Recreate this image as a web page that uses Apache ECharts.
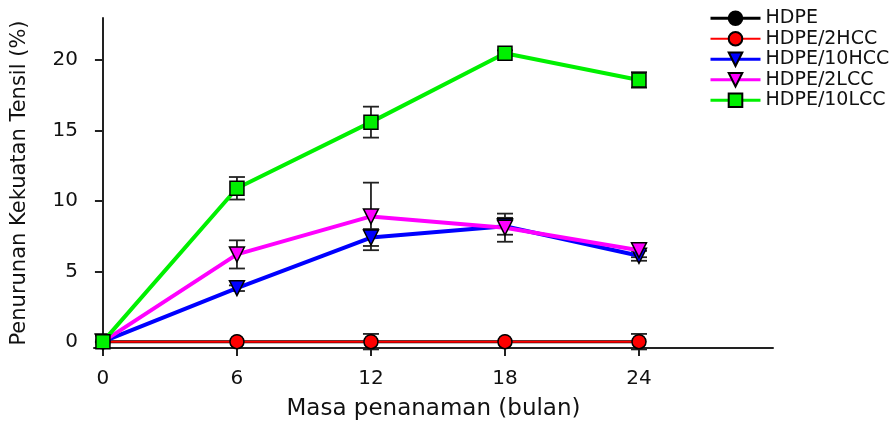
<!DOCTYPE html>
<html>
<head>
<meta charset="utf-8">
<script src="https://cdn.jsdelivr.net/npm/echarts@6/dist/echarts.min.js"></script>
<style>
html,body{margin:0;padding:0;background:#fff;}
#chart{width:891px;height:424px;}
</style>
</head>
<body>
<div id="chart"></div>
<script>
const months = [0, 6, 12, 18, 24];
const xTickLabels = [0, 6, 12, 18, 24];
const yTickLabels = [0, 5, 10, 15, 20];
const seriesNames = ['HDPE', 'HDPE/2HCC', 'HDPE/10HCC', 'HDPE/2LCC', 'HDPE/10LCC'];
const valHDPE    = [0, 0, 0, 0, 0];
const val2HCC    = [0, 0, 0, 0, 0];
const val10HCC   = [0, 3.8, 7.4, 8.2, 6.1];
const val2LCC    = [0, 6.2, 8.9, 8.1, 6.5];
const val10LCC   = [0, 10.9, 15.6, 20.5, 18.6];
const errHDPE    = [0, 0, 0, 0, 0];
const err2HCC    = [0, 0, 0.55, 0, 0.55];
const err10HCC   = [0, 0.2, 0.6, 0.6, 0.35];
const err2LCC    = [0, 1.0, 2.4, 1.0, 0.5];
const err10LCC   = [0, 0.8, 1.1, 0.2, 0.55];

const FONT = 'DejaVu Sans';
const vals = [valHDPE, val2HCC, val10HCC, val2LCC, val10LCC];
const errs = [errHDPE, err2HCC, err10HCC, err2LCC, err10LCC];
const styles = [
  {color: '#000000', symbol: 'circle', size: 13, rotate: 0, width: 3},
  {color: '#ff0000', symbol: 'circle', size: 14, rotate: 0, width: 2},
  {color: '#0000ff', symbol: 'triangle', size: 15, rotate: 180, width: 4},
  {color: '#ff00ff', symbol: 'triangle', size: 15, rotate: 180, width: 4},
  {color: '#00f000', symbol: 'rect', size: 14, rotate: 0, width: 4}
];

const series = [];
seriesNames.forEach((name, i) => {
  const data = months.map((m, j) => [m, vals[i][j], errs[i][j]]).filter(d => d[2] > 0);
  series.push({
    type: 'custom',
    name: name + '_err',
    z: 1,
    silent: true,
    data: data,
    renderItem: function (params, api) {
      const x = api.value(0), y = api.value(1), e = api.value(2);
      const top = api.coord([x, y + e]);
      const bot = api.coord([x, y - e]);
      const hw = 8;
      const st = {stroke: '#222', lineWidth: 1.8};
      return {
        type: 'group',
        children: [
          {type: 'line', shape: {x1: top[0], y1: top[1], x2: bot[0], y2: bot[1]}, style: st},
          {type: 'line', shape: {x1: top[0] - hw, y1: top[1], x2: top[0] + hw, y2: top[1]}, style: st},
          {type: 'line', shape: {x1: bot[0] - hw, y1: bot[1], x2: bot[0] + hw, y2: bot[1]}, style: st}
        ]
      };
    }
  });
});
seriesNames.forEach((name, i) => {
  const s = styles[i];
  series.push({
    type: 'line',
    name: name,
    z: 2 + i,
    data: months.map((m, j) => [m, vals[i][j]]),
    symbol: s.symbol,
    symbolSize: s.size,
    symbolRotate: s.rotate,
    showAllSymbol: true,
    lineStyle: {color: s.color, width: s.width},
    itemStyle: {color: s.color, borderColor: '#000', borderWidth: 1.5},
    emphasis: {disabled: true},
    animation: false
  });
});

const chart = echarts.init(document.getElementById('chart'), null, {renderer: 'canvas'});
chart.setOption({
  animation: false,
  backgroundColor: '#ffffff',
  grid: {left: 94, right: 118, top: 18, bottom: 76, containLabel: false, outerBoundsMode: 'none'},
  legend: {
    orient: 'vertical',
    left: 704,
    top: 3,
    itemWidth: 50,
    itemHeight: 17,
    itemGap: 0,
    data: seriesNames.map((n, i) => ({
      name: n,
      lineStyle: {color: styles[i].color, width: i === 1 ? 2 : 3}
    })),
    textStyle: {fontFamily: FONT, fontSize: 19, color: '#111', lineHeight: 20.5},
    selectedMode: false
  },
  xAxis: {
    type: 'value',
    min: -0.4,
    max: 30,
    name: 'Masa penanaman (bulan)',
    nameLocation: 'middle',
    nameGap: 50,
    nameTextStyle: {fontFamily: FONT, fontSize: 23, color: '#111'},
    axisLine: {onZero: false, lineStyle: {color: '#222', width: 2}},
    axisTick: {show: true, length: 8, customValues: xTickLabels, lineStyle: {color: '#222', width: 2}},
    axisLabel: {customValues: xTickLabels, fontFamily: FONT, fontSize: 20, color: '#111', margin: 21},
    splitLine: {show: false}
  },
  yAxis: {
    type: 'value',
    min: -0.45,
    max: 23,
    name: 'Penurunan Kekuatan Tensil (%)',
    nameLocation: 'middle',
    nameGap: 64,
    nameTextStyle: {fontFamily: FONT, fontSize: 21, color: '#111'},
    axisLine: {onZero: true, lineStyle: {color: '#222', width: 2}},
    axisTick: {show: true, length: 8, customValues: yTickLabels, lineStyle: {color: '#222', width: 2}},
    axisLabel: {customValues: yTickLabels, fontFamily: FONT, fontSize: 20, color: '#111', margin: 16},
    splitLine: {show: false}
  },
  series: series
});
</script>
</body>
</html>
